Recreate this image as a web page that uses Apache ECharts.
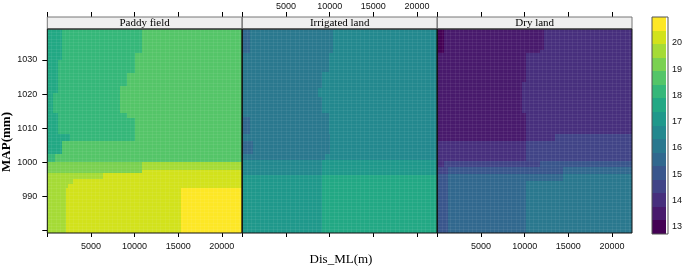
<!DOCTYPE html>
<html><head><meta charset="utf-8">
<script src="https://cdn.jsdelivr.net/npm/echarts@6/dist/echarts.min.js"></script>
<style>html,body{margin:0;padding:0;background:#fff}#c{width:685px;height:268px}</style>
</head><body><div id="c"></div>
<script>
// ---------------- data ----------------
const panelNames = ['Paddy field', 'Irrigated land', 'Dry land'];
const xTicks = [0, 5000, 10000, 15000, 20000];
const xTickLabels = [5000, 10000, 15000, 20000];
const yTicks = [980, 990, 1000, 1010, 1020, 1030];
const yTickLabels = [990, 1000, 1010, 1020, 1030];
const keyTicks = [13, 14, 15, 16, 17, 18, 19, 20];
const disRange = [0, 22300];
const mapRange = [979.2, 1039.1];
const zRange = [12.72, 20.99];
const nLevels = 16;
const gridStepDis = 500, gridStepMap = 1;
const viridis16 = ['#440154','#481A6C','#472F7D','#414487','#39568C','#31688E','#2A788E','#23888E',
                   '#1F988B','#22A884','#35B779','#54C568','#7AD151','#A5DB36','#D2E21B','#FDE725'];
// rows: [MAP low, MAP high, Dis_ML break points, predicted values between breaks]
const paddyRows = [
  [1032.1, 1039.1, [1700, 10870], [17.6, 18.2, 18.7]],
  [1030.0, 1032.1, [1700, 10030], [17.6, 18.2, 18.7]],
  [1026.2, 1030.0, [1220, 10030], [17.6, 18.2, 18.7]],
  [1022.4, 1026.2, [1220, 9160], [17.6, 18.2, 18.7]],
  [1020.3, 1022.4, [1220, 8320], [17.6, 18.2, 18.7]],
  [1014.4, 1020.3, [650, 8320], [17.6, 18.2, 18.7]],
  [1012.9, 1014.4, [1220, 9160], [17.6, 18.2, 18.7]],
  [1008.2, 1012.9, [1220, 10030], [17.6, 18.2, 18.7]],
  [1006.2, 1008.2, [2600, 10030], [17.6, 18.2, 18.7]],
  [1002.4, 1006.2, [1700], [17.6, 18.7]],
  [1000.0, 1002.4, [900], [18.2, 18.7]],
  [997.6, 1000.0, [10870], [19.2, 19.7]],
  [996.8, 997.6, [10870], [19.2, 20.2]],
  [995.0, 996.8, [6400], [19.7, 20.2]],
  [993.5, 995.0, [3000], [19.7, 20.2]],
  [992.3, 993.5, [2400], [19.7, 20.2]],
  [979.2, 992.3, [2100, 15300], [19.7, 20.2, 20.7]]
];
const irrigatedRows = [
  [1032.1, 1039.1, [870, 10400], [15.6, 16.1, 16.6]],
  [1026.5, 1032.1, [9940], [16.1, 16.6]],
  [1021.8, 1026.5, [9070], [16.1, 16.6]],
  [1019.1, 1021.8, [8680], [16.1, 16.6]],
  [1014.4, 1019.1, [9070], [16.1, 16.6]],
  [1013.2, 1014.4, [9940], [16.1, 16.6]],
  [1008.2, 1013.2, [870, 9940], [15.6, 16.1, 16.6]],
  [1006.2, 1008.2, [10020], [16.1, 16.6]],
  [1002.4, 1006.2, [1200, 10020], [15.6, 16.1, 16.6]],
  [1000.6, 1002.4, [9440], [16.1, 16.6]],
  [996.2, 1000.6, [9070], [16.6, 17.1]],
  [979.2, 996.2, [9070], [17.1, 17.6]]
];
const dryRows = [
  [1032.9, 1039.1, [760, 12200], [13.0, 13.5, 14.0]],
  [1032.1, 1032.9, [760, 11740], [13.0, 13.5, 14.0]],
  [1023.5, 1032.1, [10100], [13.5, 14.0]],
  [1014.4, 1023.5, [9640], [13.5, 14.0]],
  [1008.2, 1014.4, [10100], [13.5, 14.0]],
  [1006.2, 1008.2, [10100, 13430], [13.5, 14.0, 14.5]],
  [1000.3, 1006.2, [10100], [14.0, 14.5]],
  [998.5, 1000.3, [760, 11740], [14.0, 14.5, 15.0]],
  [996.5, 998.5, [1200, 14400], [14.5, 15.0, 15.6]],
  [994.4, 996.5, [1200, 10100, 14400], [15.0, 15.6, 15.6, 16.1]],
  [979.2, 994.4, [1200, 10100], [15.0, 15.6, 16.1]]
];
const panelRows = [paddyRows, irrigatedRows, dryRows];

// ---------------- build ----------------
function cellsFromRows(rows) {
  const out = [];
  rows.forEach(([lo, hi, brk, vals]) => {
    const edges = [disRange[0], ...brk, disRange[1]];
    for (let i = 0; i < vals.length; i++) out.push([edges[i], edges[i + 1], lo, hi, vals[i]]);
  });
  return out;
}
const step = (zRange[1] - zRange[0]) / nLevels;
const breaks = Array.from({length: nLevels + 1}, (_, k) => zRange[0] + k * step);
const pieces = viridis16.map((c, k) => ({gte: breaks[k], lt: breaks[k + 1] + (k === nLevels - 1 ? 1 : 0), color: c}));
const keyCells = viridis16.map((c, k) => [0, 1, breaks[k], breaks[k + 1], (breaks[k] + breaks[k + 1]) / 2]);

const L = [47.3, 242.4, 437.4], W = 194.6, T = 29, H = 204;
const CB = {left: 652, top: 17, width: 16, height: 217};
const sans = 'Liberation Sans, Arial, sans-serif';
const serif = 'Liberation Serif, Times New Roman, serif';

function renderCell(params, api) {
  const a = api.coord([api.value(0), api.value(3)]);
  const b = api.coord([api.value(1), api.value(2)]);
  const x0 = Math.round(a[0]), y0 = Math.round(a[1]), x1 = Math.round(b[0]), y1 = Math.round(b[1]);
  return {type: 'rect', shape: {x: x0, y: y0, width: x1 - x0, height: y1 - y0},
          style: {fill: api.visual('color')}};
}

const grids = L.map(l => ({left: l, top: T, width: W, height: H, containLabel: false}));
grids.push({left: CB.left, top: CB.top, width: CB.width, height: CB.height});

const tickStyle = {show: true, inside: false, length: 5, lineStyle: {color: '#000', width: 1}};
const lab = {fontSize: 9, color: '#111', fontFamily: sans, formatter: v => String(v)};
const seam = {show: true, lineStyle: {color: 'rgba(255,255,255,0.06)', width: 1}};
const xAxes = [], yAxes = [];
L.forEach((l, i) => {
  xAxes.push({gridIndex: i, type: 'value', position: 'bottom', min: disRange[0], max: disRange[1],
    axisLine: {show: false}, splitLine: {show: false},
    axisTick: Object.assign({customValues: xTicks}, tickStyle, {length: 4}),
    axisLabel: Object.assign({show: i !== 1, customValues: xTickLabels, margin: 9}, lab)});
  xAxes.push({gridIndex: i, type: 'value', position: 'top', offset: 12, min: disRange[0], max: disRange[1],
    axisLine: {show: false}, splitLine: {show: false},
    axisTick: Object.assign({customValues: xTicks}, tickStyle),
    axisLabel: Object.assign({show: i === 1, customValues: xTickLabels, margin: 6}, lab)});
  yAxes.push({gridIndex: i, type: 'value', position: i === 2 ? 'right' : 'left', min: mapRange[0], max: mapRange[1],
    axisLine: {show: false}, splitLine: {show: false},
    axisTick: Object.assign({customValues: yTicks}, tickStyle, {show: i !== 1}),
    axisLabel: Object.assign({show: i === 0, customValues: yTickLabels, margin: 10}, lab)});
});
xAxes.push({gridIndex: 3, type: 'value', min: 0, max: 1, show: false});
yAxes.push({gridIndex: 3, type: 'value', position: 'right', min: zRange[0], max: zRange[1],
  axisLine: {show: false}, splitLine: {show: false},
  axisTick: Object.assign({customValues: keyTicks}, tickStyle, {length: 4}),
  axisLabel: Object.assign({customValues: keyTicks, margin: 6}, lab)});
// faint cell seams of the prediction grid (drawn above the cells)
L.forEach((l, i) => {
  xAxes.push({gridIndex: i, type: 'value', position: 'bottom', z: 10, min: disRange[0], max: disRange[1],
    interval: gridStepDis, axisLine: {show: false}, axisTick: {show: false}, axisLabel: {show: false}, splitLine: seam});
  yAxes.push({gridIndex: i, type: 'value', position: 'left', z: 10, min: mapRange[0], max: mapRange[1],
    interval: gridStepMap, axisLine: {show: false}, axisTick: {show: false}, axisLabel: {show: false}, splitLine: seam});
});

const series = panelRows.map((rows, i) => ({
  type: 'custom', xAxisIndex: 2 * i, yAxisIndex: i, renderItem: renderCell,
  encode: {x: [0, 1], y: [2, 3]}, data: cellsFromRows(rows), silent: true, clip: true
}));
series.push({type: 'custom', xAxisIndex: 6, yAxisIndex: 3, renderItem: renderCell,
  encode: {x: [0, 1], y: [2, 3]}, data: keyCells, silent: true});

const graphics = [];
L.forEach((l, i) => {
  graphics.push({type: 'rect', z: 100, shape: {x: l, y: 17, width: W, height: 12},
    style: {fill: '#efefef', stroke: '#777', lineWidth: 1}});
  graphics.push({type: 'text', z: 101, x: l + W / 2, y: 23.5,
    style: {text: panelNames[i], font: '11px ' + serif, fill: '#000', align: 'center', verticalAlign: 'middle'}});
  graphics.push({type: 'rect', z: 100, shape: {x: l, y: T, width: W, height: H},
    style: {fill: 'none', stroke: '#111', lineWidth: 1}});
});
graphics.push({type: 'rect', z: 100, shape: {x: CB.left, y: CB.top, width: CB.width, height: CB.height},
  style: {fill: 'none', stroke: '#555', lineWidth: 1}});
graphics.push({type: 'text', z: 101, x: 341, y: 260,
  style: {text: 'Dis_ML(m)', font: '13px ' + serif, fill: '#000', align: 'center', verticalAlign: 'middle'}});
graphics.push({type: 'text', z: 101, x: 7, y: 142, rotation: Math.PI / 2,
  style: {text: 'MAP(mm)', font: 'bold 13px ' + serif, fill: '#000', align: 'center', verticalAlign: 'middle'}});

const chart = echarts.init(document.getElementById('c'), null, {renderer: 'canvas'});
chart.setOption({
  animation: false,
  backgroundColor: '#fff',
  grid: grids, xAxis: xAxes, yAxis: yAxes,
  visualMap: {type: 'piecewise', show: false, dimension: 4, seriesIndex: [0, 1, 2, 3], pieces: pieces},
  series: series,
  graphic: graphics
});
</script></body></html>
